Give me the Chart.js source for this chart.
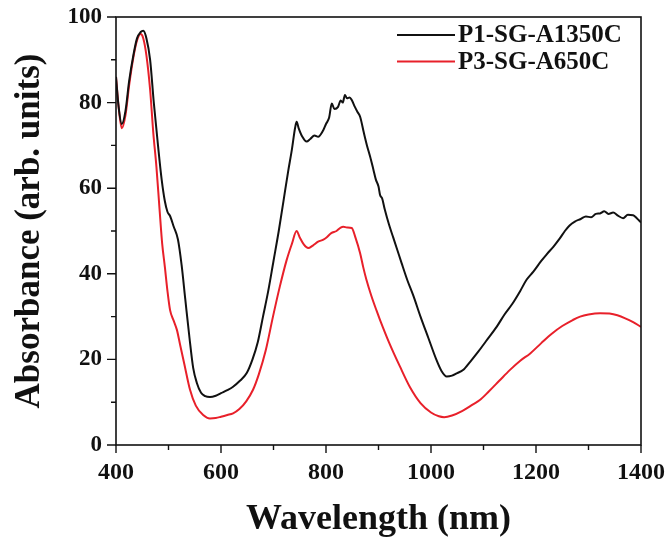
<!DOCTYPE html>
<html>
<head>
<meta charset="utf-8">
<script src="https://cdn.jsdelivr.net/npm/chart.js@4/dist/chart.umd.min.js"></script>
<style>
  html, body { margin: 0; padding: 0; background: #fff; }
  #wrap { width: 667px; height: 544px; }
</style>
</head>
<body>
<div id="wrap"><canvas id="absChart" width="667" height="544"></canvas></div>
<script>
// Donnees
const serieNoms = ["P1-SG-A1350C", "P3-SG-A650C"];
const serieCouleurs = ["#111111", "#e8202a"];

const noirX = [400, 405, 411, 418, 425, 433, 440, 447, 452, 458, 465, 472, 480, 487, 493, 498, 503, 510, 518, 525,
  532, 540, 547, 554, 562, 570, 579, 590, 600, 612, 623, 636, 649, 660, 670, 680, 690, 700, 710, 719,
  728, 735, 741, 744, 748, 755, 763, 770, 778, 785, 795, 800, 806, 811, 816, 823, 828, 832, 836, 840,
  845, 849, 855, 860, 865, 872, 878, 884, 890, 895, 900, 903, 907, 912, 920, 928, 936, 944, 955, 966,
  980, 995, 1010, 1020, 1030, 1040, 1050, 1061, 1075, 1090, 1105, 1125, 1140, 1155, 1170, 1182, 1195, 1210, 1220, 1233,
  1245, 1255, 1264, 1274, 1285, 1295, 1305, 1314, 1322, 1330, 1338, 1347, 1356, 1366, 1375, 1385, 1392, 1400];
const noirY = [86, 79, 75, 78, 85, 91, 95, 96.5, 96.8, 95, 90, 80, 70, 62, 57, 54.5, 53.5, 51, 48, 42,
  34, 25, 18, 14.5, 12.2, 11.4, 11.2, 11.5, 12.1, 12.8, 13.6, 15, 16.8, 20, 24, 30, 36, 43, 50, 57,
  64, 69, 74, 75.5, 74, 72, 70.9, 71.5, 72.3, 72, 73.6, 75, 76.5, 79.8, 78.5, 79, 80.5, 80, 81.8, 81,
  81.2, 80.6, 79, 77.8, 76.7, 73, 70, 67.4, 64.5, 62, 60.4, 58.4, 57.6, 55, 51.5, 48.5, 45.5, 42.5, 38.5, 35,
  30, 25, 20, 17.3, 16, 16.2, 16.8, 17.5, 19.5, 21.8, 24.3, 27.6, 30.5, 33, 36, 38.6, 40.5, 43, 44.5, 46.3,
  48.2, 50, 51.3, 52.2, 52.8, 53.4, 53.2, 54, 54.1, 54.6, 54, 54.3, 53.6, 53, 53.8, 53.7, 53, 52];

const rougeX = [400, 405, 411, 418, 425, 433, 440, 447, 452, 458, 465, 471, 477, 483, 488, 493, 498, 503, 510, 516,
  522, 530, 541, 552, 566, 579, 590, 600, 612, 623, 635, 648, 661, 672, 685, 699, 712, 725, 735, 744,
  750, 758, 766, 775, 785, 795, 801, 810, 820, 828, 833, 840, 849, 856, 865, 871, 877, 886, 896, 903,
  920, 941, 960, 980, 1000, 1015, 1025, 1040, 1060, 1080, 1093, 1110, 1130, 1150, 1170, 1189, 1210, 1230, 1250, 1270,
  1284, 1300, 1322, 1340, 1355, 1370, 1385, 1400];
const rougeY = [86, 79, 74, 77, 84, 90.5, 94.5, 96, 95, 91, 83, 73, 65, 55, 47, 41.7, 36, 31.5, 29, 26.9,
  23.5, 19, 12.9, 9.2, 7, 6.2, 6.3, 6.6, 7, 7.4, 8.4, 10.2, 12.9, 16.5, 22, 30, 37, 43.2, 47, 50,
  48.5, 46.8, 46, 46.6, 47.5, 48, 48.5, 49.5, 50, 50.8, 51, 50.8, 50.7, 48.5, 44.8, 41.5, 38.6, 35, 31.5, 29.2,
  24, 18.3, 13.5, 9.8, 7.6, 6.7, 6.5, 6.9, 8, 9.5, 10.5, 12.5, 15, 17.5, 19.7, 21.4, 23.8, 26, 27.8, 29.2,
  30, 30.5, 30.8, 30.7, 30.3, 29.6, 28.7, 27.6];

const xMin = 400, xMax = 1400, xMajeur = 200, xMineur = 100;
const yMin = 0, yMax = 100, yMajeur = 20, yMineur = 10;

const policeSerif = "'Liberation Serif', 'Times New Roman', serif";

function points(xs, ys) {
  return xs.map((x, i) => ({ x: x, y: ys[i] }));
}

// Cadre, graduations et legende dessines a la main
const cadrePlugin = {
  id: "cadre",
  afterDraw(chart) {
    const ctx = chart.ctx;
    const a = chart.chartArea;
    const sx = chart.scales.x;
    const sy = chart.scales.y;
    ctx.save();
    ctx.strokeStyle = "#111";
    ctx.lineWidth = 1.6;
    ctx.strokeRect(a.left, a.top, a.right - a.left, a.bottom - a.top);

    ctx.lineWidth = 1.4;
    ctx.beginPath();
    for (let v = xMin; v <= xMax; v += xMineur) {
      const px = sx.getPixelForValue(v);
      const l = (v % xMajeur === 0) ? 8 : 5;
      ctx.moveTo(px, a.bottom);
      ctx.lineTo(px, a.bottom + l);
    }
    for (let v = yMin; v <= yMax; v += yMineur) {
      const py = sy.getPixelForValue(v);
      const l = (v % yMajeur === 0) ? 9 : 5;
      ctx.moveTo(a.left, py);
      ctx.lineTo(a.left - l, py);
    }
    ctx.stroke();

    // Legende
    ctx.font = "bold 25px " + policeSerif;
    ctx.textBaseline = "middle";
    ctx.textAlign = "left";
    chart.data.datasets.forEach((ds, i) => {
      const y = 35 + i * 26.5;
      ctx.strokeStyle = ds.borderColor;
      ctx.lineWidth = 2;
      ctx.beginPath();
      ctx.moveTo(397, y);
      ctx.lineTo(455, y);
      ctx.stroke();
      ctx.fillStyle = "#111";
      ctx.fillText(ds.label, 458, y + 1);
    });
    ctx.restore();
  }
};

const ctx = document.getElementById("absChart").getContext("2d");
new Chart(ctx, {
  type: "line",
  data: {
    datasets: [
      {
        label: serieNoms[0],
        data: points(noirX, noirY),
        borderColor: serieCouleurs[0],
        borderWidth: 2,
        pointRadius: 0,
        cubicInterpolationMode: "monotone",
        fill: false
      },
      {
        label: serieNoms[1],
        data: points(rougeX, rougeY),
        borderColor: serieCouleurs[1],
        borderWidth: 2,
        pointRadius: 0,
        cubicInterpolationMode: "monotone",
        fill: false
      }
    ]
  },
  options: {
    responsive: false,
    animation: false,
    layout: { padding: { left: 0, right: 26, top: 17, bottom: 0 } },
    plugins: {
      legend: { display: false },
      tooltip: { enabled: false },
      title: { display: false }
    },
    scales: {
      x: {
        type: "linear",
        min: xMin,
        max: xMax,
        afterFit(scale) {
          scale.height = 99;
          scale.paddingLeft = 0;
          scale.paddingRight = 0;
        },
        grid: { display: false },
        border: { display: false },
        ticks: {
          stepSize: xMajeur,
          padding: 5,
          color: "#111",
          font: { family: policeSerif, size: 24, weight: "bold" },
          maxRotation: 0,
          callback: v => String(v)
        },
        title: {
          display: true,
          text: "Wavelength (nm)",
          color: "#111",
          font: { family: policeSerif, size: 36, weight: "bold" },
          padding: { top: 0, bottom: 3 }
        }
      },
      y: {
        min: yMin,
        max: yMax,
        afterFit(scale) {
          scale.width = 116;
          scale.paddingTop = 0;
          scale.paddingBottom = 0;
        },
        grid: { display: false },
        border: { display: false },
        ticks: {
          stepSize: yMajeur,
          padding: 6,
          color: "#111",
          font: { family: policeSerif, size: 23, weight: "bold" }
        },
        title: {
          display: true,
          text: "Absorbance (arb. units)",
          color: "#111",
          font: { family: policeSerif, size: 35, weight: "bold" },
          padding: { top: 9, bottom: 0 }
        }
      }
    }
  },
  plugins: [cadrePlugin]
});
</script>
</body>
</html>
